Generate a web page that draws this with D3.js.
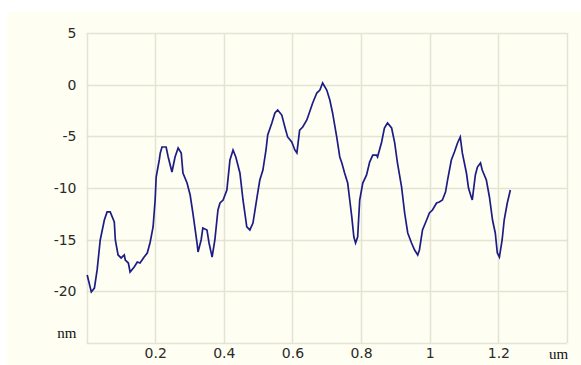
<html>
<head>
  <script src="https://d3js.org/d3.v7.min.js"></script>
  <style>
    body { margin: 0; background: #ffffff; }
    .tick text { font-family: "DejaVu Sans", Verdana, sans-serif; font-size: 14px; fill: #2a2a2a; }
  </style>
</head>
<body>
  <svg id="chart" width="581" height="365"></svg>
  <script>
    // profile, x in um, height in nm
    let xs = [0.002, 0.014, 0.023, 0.031, 0.040, 0.052, 0.060, 0.069, 0.081, 0.084,
      0.092, 0.101, 0.110, 0.113, 0.122, 0.127, 0.139, 0.148, 0.156, 0.168,
      0.177, 0.185, 0.194, 0.200, 0.203, 0.212, 0.215, 0.220, 0.232, 0.238,
      0.249, 0.258, 0.267, 0.276, 0.281, 0.293, 0.302, 0.310, 0.322, 0.325,
      0.334, 0.339, 0.351, 0.357, 0.366, 0.374, 0.383, 0.389, 0.398, 0.409,
      0.418, 0.427, 0.435, 0.447, 0.456, 0.467, 0.476, 0.485, 0.497, 0.505,
      0.514, 0.523, 0.528, 0.540, 0.549, 0.557, 0.569, 0.578, 0.586, 0.598,
      0.607, 0.613, 0.621, 0.630, 0.642, 0.652, 0.659, 0.671, 0.680, 0.688,
      0.700, 0.709, 0.717, 0.729, 0.738, 0.744, 0.752, 0.761, 0.767, 0.773,
      0.779, 0.784, 0.790, 0.796, 0.805, 0.816, 0.825, 0.834, 0.845, 0.848,
      0.860, 0.868, 0.877, 0.889, 0.898, 0.906, 0.918, 0.927, 0.936, 0.947,
      0.956, 0.965, 0.970, 0.979, 0.991, 0.999, 1.008, 1.020, 1.028, 1.037,
      1.046, 1.052, 1.063, 1.072, 1.081, 1.089, 1.095, 1.107, 1.113, 1.121,
      1.124, 1.133, 1.139, 1.148, 1.153, 1.165, 1.174, 1.183, 1.191, 1.197,
      1.203, 1.211, 1.217, 1.226, 1.235];
    let heights = [-18.42, -20.06, -19.68, -17.93, -15.03, -13.10, -12.32, -12.32, -13.29, -15.03,
      -16.48, -16.77, -16.48, -16.97, -17.26, -18.13, -17.64, -17.16, -17.26, -16.68,
      -16.29, -15.32, -13.77, -11.16, -8.94, -7.29, -6.61, -6.03, -6.03, -7.00,
      -8.45, -7.00, -6.13, -6.61, -8.55, -9.52, -10.68, -12.42, -15.32, -16.19,
      -15.03, -13.87, -14.06, -15.32, -16.68, -15.03, -12.13, -11.45, -11.16, -10.19,
      -7.29, -6.32, -7.00, -8.55, -11.16, -13.77, -14.06, -13.39, -10.87, -9.23,
      -8.26, -6.32, -4.87, -3.71, -2.74, -2.45, -2.94, -4.10, -5.06, -5.55,
      -6.32, -6.61, -4.39, -4.10, -3.42, -2.45, -1.77, -0.81, -0.52, 0.16,
      -0.52, -1.48, -2.74, -5.06, -7.00, -7.58, -8.55, -9.52, -11.16, -12.81,
      -14.74, -15.32, -14.74, -11.16, -9.52, -8.74, -7.49, -6.81, -6.81, -7.00,
      -5.55, -4.19, -3.71, -4.19, -5.64, -7.58, -9.90, -12.42, -14.35, -15.32,
      -16.00, -16.48, -16.00, -14.06, -13.10, -12.42, -12.13, -11.45, -11.35, -11.16,
      -10.39, -9.23, -7.29, -6.52, -5.64, -5.06, -6.61, -8.55, -10.00, -10.87,
      -11.16, -8.74, -7.97, -7.58, -8.26, -9.23, -10.87, -13.10, -14.35, -16.29,
      -16.68, -15.03, -13.10, -11.45, -10.19];

    let xTicks = [0, 0.2, 0.4, 0.6, 0.8, 1.0, 1.2, 1.4];
    let xTickLabels = ["", "0.2", "0.4", "0.6", "0.8", "1", "1.2", "um"];
    let yTicks = [5, 0, -5, -10, -15, -20, -25];
    let yTickLabels = ["5", "0", "-5", "-10", "-15", "-20", "nm"];

    let svg = d3.select("#chart");

    // cream panel
    svg.append("rect")
      .attr("x", 7).attr("y", 12)
      .attr("width", 574).attr("height", 353)
      .attr("fill", "#fefef2");

    let x = d3.scaleLinear().domain([0, 1.4]).range([86.5, 567]);
    let y = d3.scaleLinear().domain([-25, 5]).range([343, 33]);

    // grid
    svg.append("g").selectAll("line").data(xTicks).join("line")
      .attr("x1", d => Math.round(x(d)) + 0.5).attr("x2", d => Math.round(x(d)) + 0.5)
      .attr("y1", y(5)).attr("y2", y(-25))
      .attr("stroke", "#e4e4d4").attr("stroke-width", 1.5);
    svg.append("g").selectAll("line").data(yTicks).join("line")
      .attr("x1", x(0)).attr("x2", x(1.4))
      .attr("y1", d => Math.round(y(d)) + 0.5).attr("y2", d => Math.round(y(d)) + 0.5)
      .attr("stroke", "#e4e4d4").attr("stroke-width", 1.5);

    // axes, labels only
    let yAxis = svg.append("g")
      .attr("transform", "translate(" + x(0) + ",0)")
      .call(d3.axisLeft(y).tickValues(yTicks).tickSize(0).tickPadding(10)
        .tickFormat((d, i) => yTickLabels[i]));
    let xAxis = svg.append("g")
      .attr("transform", "translate(0," + y(-25) + ")")
      .call(d3.axisBottom(x).tickValues(xTicks).tickSize(0).tickPadding(5)
        .tickFormat((d, i) => xTickLabels[i]));
    svg.selectAll(".domain").remove();
    yAxis.selectAll(".tick text").filter(d => d === -25)
      .attr("y", -10)
      .style("font-family", "'Liberation Serif', 'Times New Roman', serif").style("font-size", "15px").style("fill", "#111");
    xAxis.selectAll(".tick text").filter(d => d === 1.4)
      .attr("dx", -9)
      .style("font-family", "'Liberation Serif', 'Times New Roman', serif").style("font-size", "15px").style("fill", "#111");

    // profile line
    let line = d3.line().x(d => x(d[0])).y(d => y(d[1]));
    svg.append("path")
      .datum(d3.zip(xs, heights))
      .attr("d", line)
      .attr("fill", "none")
      .attr("stroke", "#1c1c86")
      .attr("stroke-width", 1.7);
  </script>
</body>
</html>
